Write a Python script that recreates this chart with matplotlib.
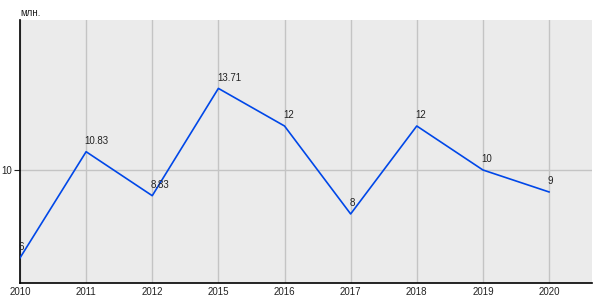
import matplotlib.pyplot as plt

plt.rcParams['font.family'] = ['Liberation Sans', 'DejaVu Sans']

years = ['2010', '2011', '2012', '2015', '2016', '2017', '2018', '2019', '2020']
values = [6, 10.83, 8.83, 13.71, 12, 8, 12, 10, 9]
labels = ['6', '10.83', '8.83', '13.71', '12', '8', '12', '10', '9']

fig = plt.figure(figsize=(6, 3), dpi=100)
ax = fig.add_axes([0.0333, 0.0567, 0.9534, 0.8766])
ax.set_facecolor('#ebebeb')

x = list(range(len(years)))
ax.plot(x, values, color='#0047e8', lw=1.2, zorder=3)
for xi, v, t in zip(x, values, labels):
    ax.annotate(t, (xi, v), xytext=(-1, 4), textcoords='offset points',
                fontsize=7, color='#222222', ha='left', va='bottom', zorder=4)

ax.set_xlim(0, 8.65)
ax.set_ylim(4.86, 16.82)
ax.set_xticks(x)
ax.set_xticklabels(years)
ax.set_yticks([10])
ax.grid(True, color='#c4c4c4', lw=1)
ax.set_axisbelow(True)

for s in ['top', 'right']:
    ax.spines[s].set_visible(False)
for s in ['left', 'bottom']:
    ax.spines[s].set_color('black')
    ax.spines[s].set_linewidth(1.2)

ax.tick_params(axis='x', length=0, labelsize=7, pad=3, colors='#222222')
ax.tick_params(axis='y', length=4, labelsize=7, pad=2, colors='#222222')

fig.text(0.0333, 0.94, 'млн.', fontsize=7, color='#222222', ha='left', va='bottom')

fig.savefig('out.png', dpi=100)
